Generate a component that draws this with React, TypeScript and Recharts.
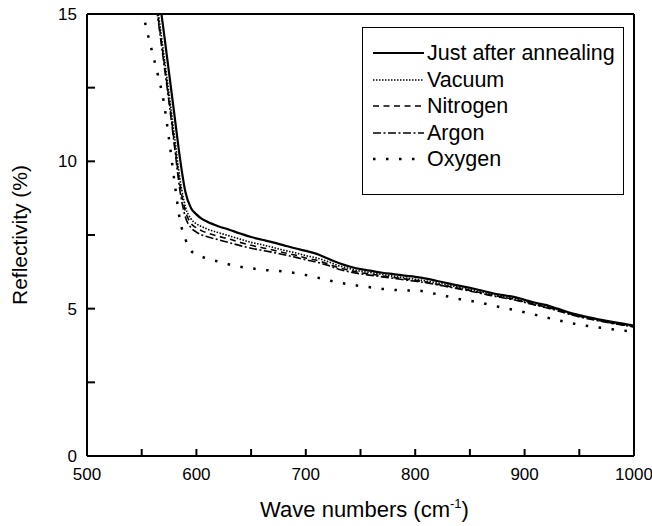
import { LineChart, Line, XAxis, YAxis } from 'recharts';

// wave numbers (cm-1)
const wavenumbers = [
  545, 550, 555, 560, 565, 570, 575, 580, 585, 590, 595, 600, 605, 610,
  620, 630, 640, 650, 660, 670, 680, 690, 700, 710, 720, 730, 740, 750,
  760, 770, 780, 790, 800, 810, 820, 830, 840, 850, 860, 870, 880, 890,
  900, 910, 920, 930, 940, 950, 960, 970, 980, 990, 1000,
];

// reflectivity (%)
const justAfterAnnealing = [
  null, null, null, null, 15.85, 14.45, 13.0, 11.55, 10.1, 8.95, 8.42, 8.2, 8.05, 7.95,
  7.8, 7.68, 7.55, 7.43, 7.34, 7.25, 7.15, 7.05, 6.96, 6.86, 6.7, 6.55, 6.43, 6.34,
  6.28, 6.22, 6.17, 6.12, 6.08, 6.02, 5.94, 5.86, 5.78, 5.71, 5.62, 5.53, 5.46, 5.4,
  5.3, 5.2, 5.12, 5.0, 4.88, 4.78, 4.7, 4.62, 4.55, 4.49, 4.43,
];
const vacuum = [
  null, null, null, 16.5, 15.1, 13.7, 12.3, 10.85, 9.4, 8.45, 8.05, 7.88, 7.78, 7.7,
  7.58, 7.47, 7.36, 7.25, 7.17, 7.08, 6.98, 6.9, 6.8, 6.72, 6.6, 6.46, 6.36, 6.27,
  6.22, 6.16, 6.1, 6.05, 6.0, 5.94, 5.87, 5.8, 5.72, 5.65, 5.57, 5.49, 5.42, 5.35,
  5.26, 5.17, 5.08, 4.97, 4.86, 4.76, 4.68, 4.6, 4.53, 4.47, 4.41,
];
const nitrogen = [
  null, null, null, 16.3, 14.9, 13.5, 12.1, 10.6, 9.2, 8.3, 7.9, 7.74, 7.64, 7.57,
  7.46, 7.36, 7.25, 7.15, 7.07, 6.99, 6.9, 6.82, 6.72, 6.64, 6.52, 6.39, 6.3, 6.22,
  6.17, 6.11, 6.06, 6.01, 5.96, 5.9, 5.83, 5.76, 5.69, 5.62, 5.54, 5.46, 5.39, 5.32,
  5.23, 5.14, 5.05, 4.95, 4.84, 4.74, 4.66, 4.58, 4.51, 4.45, 4.39,
];
const argon = [
  null, null, null, 16.2, 14.8, 13.4, 12.0, 10.5, 9.0, 8.1, 7.75, 7.6, 7.5, 7.44,
  7.34, 7.24, 7.14, 7.05, 6.98, 6.91, 6.83, 6.75, 6.66, 6.58, 6.47, 6.34, 6.25, 6.18,
  6.13, 6.08, 6.03, 5.98, 5.93, 5.88, 5.81, 5.74, 5.67, 5.6, 5.52, 5.44, 5.37, 5.3,
  5.21, 5.12, 5.03, 4.93, 4.82, 4.72, 4.64, 4.57, 4.5, 4.44, 4.38,
];
const oxygen = [
  16.0, 15.2, 14.4, 13.65, 12.9, 12.05, 10.75, 9.3, 8.0, 7.35, 6.97, 6.83, 6.76, 6.7,
  6.6, 6.5, 6.42, 6.37, 6.32, 6.29, 6.26, 6.21, 6.14, 6.06, 5.97, 5.89, 5.82, 5.77,
  5.72, 5.67, 5.64, 5.62, 5.62, 5.57, 5.49, 5.41, 5.33, 5.27, 5.2, 5.12, 5.03, 4.96,
  4.88, 4.79, 4.7, 4.61, 4.53, 4.46, 4.4, 4.35, 4.3, 4.26, 4.22,
];

// major + minor tick positions; minor ones get no label
const xTicks = [500, 550, 600, 650, 700, 750, 800, 850, 900, 950, 1000];
const yTicks = [0, 2.5, 5, 7.5, 10, 12.5, 15];

const SERIES = [
  { key: 'justAfter', name: 'Just after annealing', values: justAfterAnnealing, width: 2.2, dash: undefined },
  { key: 'vacuum', name: 'Vacuum', values: vacuum, width: 1.6, dash: '1.5 1.5' },
  { key: 'nitrogen', name: 'Nitrogen', values: nitrogen, width: 1.6, dash: '6 4.5' },
  { key: 'argon', name: 'Argon', values: argon, width: 1.6, dash: '8 2.5 2 2.5' },
  { key: 'oxygen', name: 'Oxygen', values: oxygen, width: 2.5, dash: '2.5 10.5' },
];

const rows = wavenumbers.map((x, i) => {
  const row: Record<string, number | null> = { x };
  SERIES.forEach((s) => {
    row[s.key] = s.values[i];
  });
  return row;
});

const FONT = "'Liberation Sans', Arial, Helvetica, sans-serif";
const TICK_TEXT = { fill: '#000', fontSize: 17, fontFamily: FONT };
const AXIS_LINE = { stroke: '#000', strokeWidth: 2 };
const TICK_LINE = { stroke: '#000', strokeWidth: 2 };
const X_DOMAIN = [500, 1000];
const Y_DOMAIN = [0, 15];
const blank = () => '';
const xLabel = (v: number) => (v % 100 === 0 ? String(v) : '');
const yLabel = (v: number) => (v % 5 === 0 ? String(v) : '');

function XTitle({ viewBox }: any) {
  const cx = viewBox.x + viewBox.width / 2 + 4;
  return (
    <text x={cx} y={viewBox.y + 61} textAnchor="middle" fontSize={22} fontFamily={FONT} fill="#000">
      Wave numbers (cm
      <tspan fontSize={13} dy={-9}>-1</tspan>
      <tspan dy={9}>)</tspan>
    </text>
  );
}

function YTitle({ viewBox }: any) {
  const cy = viewBox.y + viewBox.height / 2;
  return (
    <text
      x={27}
      y={cy}
      transform={`rotate(-90 27 ${cy})`}
      textAnchor="middle"
      fontSize={21}
      fontFamily={FONT}
      fill="#000"
    >
      Reflectivity (%)
    </text>
  );
}

function LegendBox() {
  return (
    <div
      style={{
        position: 'absolute',
        left: 362,
        top: 27,
        width: 260,
        height: 154,
        border: '1.5px solid #000',
        background: '#fff',
        paddingTop: 12,
        boxSizing: 'content-box',
        fontFamily: FONT,
        fontSize: 21.5,
        color: '#000',
      }}
    >
      {SERIES.map((s) => (
        <div key={s.key} style={{ display: 'flex', alignItems: 'center', height: 26.5, paddingLeft: 10 }}>
          <svg width={51} height={10} style={{ marginRight: 3 }}>
            <line x1={0} y1={5} x2={51} y2={5} stroke="#000" strokeWidth={s.width} strokeDasharray={s.dash} />
          </svg>
          <span style={{ lineHeight: '26px' }}>{s.name}</span>
        </div>
      ))}
    </div>
  );
}

export default function App() {
  return (
    <div style={{ position: 'absolute', left: 0, top: 0, width: 652, height: 526, background: '#fff' }}>
      <LineChart width={652} height={526} data={rows} margin={{ top: 14, right: 18, bottom: 0, left: 0 }}>
        <XAxis
          dataKey="x"
          type="number"
          domain={X_DOMAIN}
          ticks={xTicks}
          interval={0}
          height={70}
          tickSize={-7}
          tickMargin={19}
          tick={TICK_TEXT}
          tickFormatter={xLabel}
          tickLine={TICK_LINE}
          axisLine={AXIS_LINE}
          label={{ content: <XTitle /> }}
        />
        {/* mirrored axes draw the top/right frame without taking space */}
        <XAxis xAxisId="top" orientation="top" type="number" domain={X_DOMAIN} ticks={xTicks} mirror height={12}
          tickFormatter={blank} tickLine={false} axisLine={AXIS_LINE} />
        <YAxis
          type="number"
          domain={Y_DOMAIN}
          ticks={yTicks}
          interval={0}
          allowDataOverflow
          width={87}
          tickSize={-8}
          tickMargin={18}
          tick={TICK_TEXT}
          tickFormatter={yLabel}
          tickLine={TICK_LINE}
          axisLine={AXIS_LINE}
          label={{ content: <YTitle /> }}
        />
        <YAxis yAxisId="right" orientation="right" type="number" domain={Y_DOMAIN} allowDataOverflow ticks={yTicks}
          mirror width={12} tickFormatter={blank} tickLine={false} axisLine={AXIS_LINE} />
        {SERIES.map((s) => (
          <Line
            key={s.key}
            dataKey={s.key}
            name={s.name}
            type="monotone"
            stroke="#000"
            strokeWidth={s.width}
            strokeDasharray={s.dash}
            dot={false}
            activeDot={false}
            isAnimationActive={false}
          />
        ))}
        <Line
          xAxisId="top"
          yAxisId="right"
          dataKey="justAfter"
          stroke="none"
          dot={false}
          activeDot={false}
          legendType="none"
          isAnimationActive={false}
        />
      </LineChart>
      <LegendBox />
    </div>
  );
}
